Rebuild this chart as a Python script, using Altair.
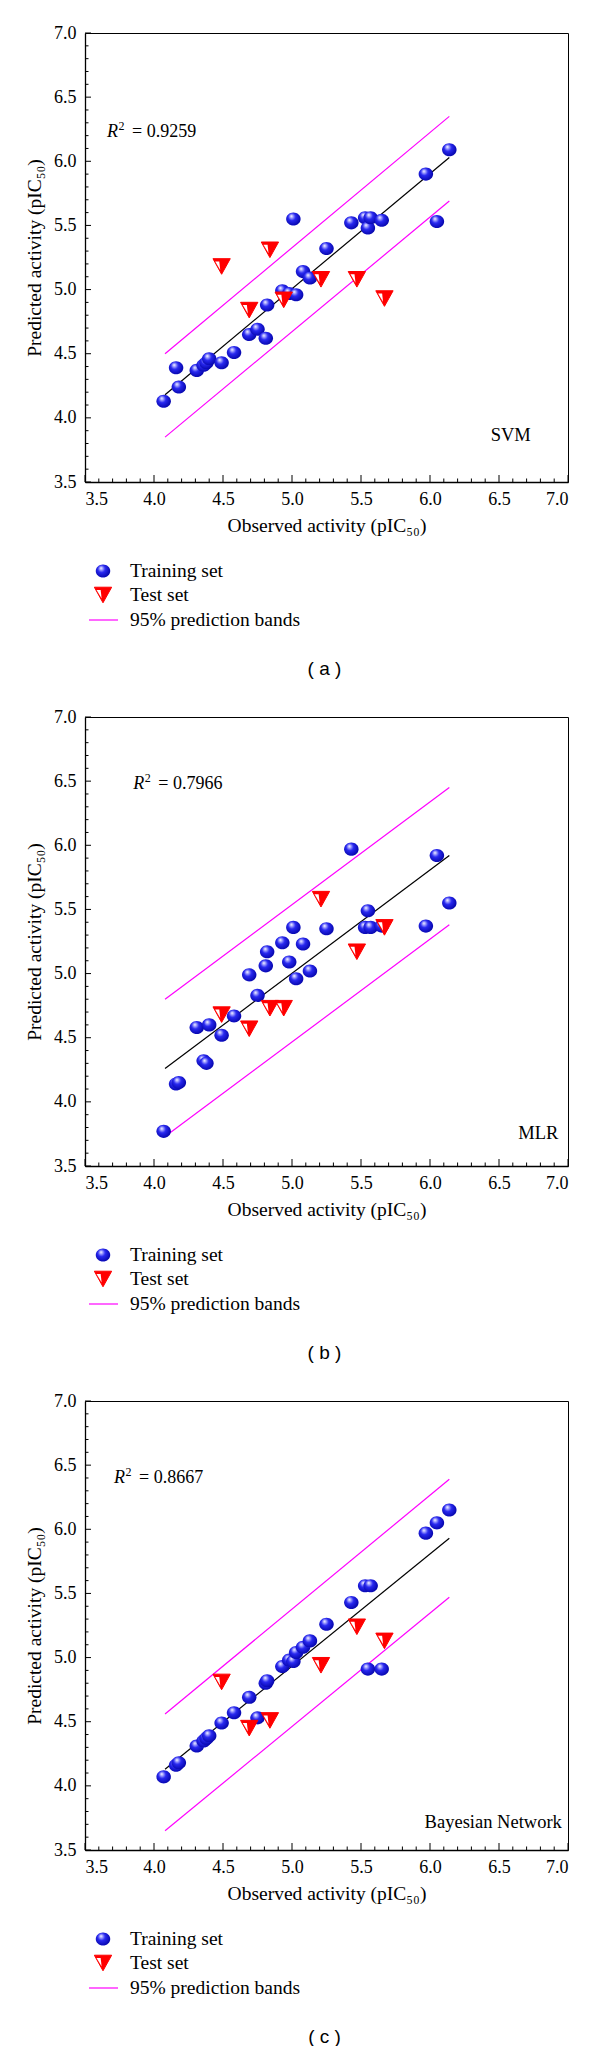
import altair as alt
import pandas as pd

# ---------------- data ----------------
obs_train = [4.07, 4.16, 4.18, 4.31, 4.36, 4.38, 4.40, 4.49, 4.58, 4.69, 4.75, 4.81, 4.82, 4.93,
             4.98, 5.01, 5.03, 5.08, 5.13, 5.25, 5.43, 5.53, 5.55, 5.57, 5.65, 5.97, 6.05, 6.14]
svm_train = [4.13, 4.39, 4.24, 4.37, 4.41, 4.43, 4.46, 4.43, 4.51, 4.65, 4.69, 4.62, 4.88, 4.99,
             4.97, 5.55, 4.96, 5.14, 5.09, 5.32, 5.52, 5.56, 5.48, 5.56, 5.54, 5.90, 5.53, 6.09]
mlr_train = [3.77, 4.14, 4.15, 4.58, 4.32, 4.30, 4.60, 4.52, 4.67, 4.99, 4.83, 5.06, 5.17, 5.24,
             5.09, 5.36, 4.96, 5.23, 5.02, 5.35, 5.97, 5.36, 5.49, 5.36, 5.37, 5.37, 5.92, 5.55]
bn_train = [4.07, 4.16, 4.18, 4.31, 4.35, 4.37, 4.39, 4.49, 4.57, 4.69, 4.53, 4.80, 4.82, 4.93,
            4.98, 4.97, 5.04, 5.08, 5.13, 5.26, 5.43, 5.56, 4.91, 5.56, 4.91, 5.97, 6.05, 6.15]

obs_test = [4.49, 4.69, 4.84, 4.94, 5.21, 5.47, 5.67]
svm_test = [5.18, 4.84, 5.31, 4.92, 5.08, 5.08, 4.93]
mlr_test = [4.68, 4.57, 4.73, 4.73, 5.58, 5.17, 5.36]
obs_test_bn = [4.49, 4.69, 4.84, 5.21, 5.47, 5.67]
bn_test = [4.81, 4.45, 4.51, 4.94, 5.24, 5.13]

line_x = [4.08, 6.14]
svm_fit, svm_up, svm_lo = [4.18, 6.03], [4.50, 6.35], [3.85, 5.69]
mlr_fit, mlr_up, mlr_lo = [4.26, 5.92], [4.80, 6.45], [3.73, 5.38]
bn_fit, bn_up, bn_lo = [4.13, 5.93], [4.56, 6.39], [3.65, 5.47]

r2_values = ["0.9259", "0.7966", "0.8667"]
r2_pos = [(3.66, 6.23), (3.85, 6.48), (3.71, 6.40)]
models = ["SVM", "MLR", "Bayesian Network"]
model_pos = [(6.73, 3.865), (6.93, 3.76), (6.955, 3.72)]
letters = ["( a )", "( b )", "( c )"]

major_ticks = [3.5, 4.0, 4.5, 5.0, 5.5, 6.0, 6.5, 7.0]
minor_ticks = [round(3.5 + 0.1 * i, 1) for i in range(1, 35) if i % 5 != 0]

legend_labels = ["Training set", "Test set", "95% prediction bands"]

# ---------------- style ----------------
W, H = 483, 449
SERIF = "Liberation Serif"
SANS = "Liberation Sans"
MAGENTA = "#ff00ff"
RED = "#ff0000"

SPHERE = "M -1 0 A 1 0.9 0 1 0 1 0 A 1 0.9 0 1 0 -1 0 Z"
TRI = "M -1 -0.9 L 1 -0.9 L 0 0.9 Z"
TRI_W = "M -0.74 -0.58 L -0.27 -0.58 L -0.16 0.4 Z"
SPH_SIZE = 210
TRI_SIZE = 300

grad = {
    "gradient": "radial",
    "x1": 0.36, "y1": 0.3, "r1": 0.0,
    "x2": 0.45, "y2": 0.42, "r2": 0.62,
    "stops": [
        {"offset": 0.0, "color": "#ffffff"},
        {"offset": 0.16, "color": "#a8a8ff"},
        {"offset": 0.42, "color": "#2828f0"},
        {"offset": 1.0, "color": "#0000a0"},
    ],
}

xs = alt.Scale(domain=[3.5, 7.0], nice=False, zero=False)
ys = alt.Scale(domain=[3.5, 7.0], nice=False, zero=False)

x_axis = alt.Axis(values=major_ticks, format=".1f", title="Observed activity (pIC₅₀)",
                  labelPadding=8, titlePadding=8, ticks=False, grid=False)
y_axis = alt.Axis(values=major_ticks, format=".1f", title="Predicted activity (pIC₅₀)",
                  labelPadding=9, titlePadding=9, ticks=False, grid=False)

one = pd.DataFrame({"a": [0]})


def X(f="obs"):
    return alt.X(f"{f}:Q", scale=xs, axis=x_axis)


def Y(f="pred"):
    return alt.Y(f"{f}:Q", scale=ys, axis=y_axis)


def panel(tx, ty, sx, sy, fit, up, lo, r2, r2xy, model, mxy, letter):
    tr = pd.DataFrame({"obs": tx, "pred": ty})
    te = pd.DataFrame({"obs": sx, "pred": sy})
    bands = pd.DataFrame({"obs": line_x * 2, "pred": up + lo,
                          "k": ["u", "u", "l", "l"]})
    fitdf = pd.DataFrame({"obs": line_x, "pred": fit})

    tk_major = pd.DataFrame({"obs": major_ticks, "pred": major_ticks})
    tk_minor = pd.DataFrame({"obs": minor_ticks, "pred": minor_ticks})
    bt1 = alt.Chart(tk_major).mark_rule(color="black", strokeWidth=1).encode(
        x=X(), y=alt.value(H), y2=alt.value(H - 7))
    bt2 = alt.Chart(tk_minor).mark_rule(color="black", strokeWidth=1).encode(
        x=X(), y=alt.value(H), y2=alt.value(H - 3.5))
    lt1 = alt.Chart(tk_major).mark_rule(color="black", strokeWidth=1).encode(
        y=Y(), x=alt.value(0), x2=alt.value(6))
    lt2 = alt.Chart(tk_minor).mark_rule(color="black", strokeWidth=1).encode(
        y=Y(), x=alt.value(0), x2=alt.value(3.5))

    band_l = alt.Chart(bands).mark_line(color=MAGENTA, strokeWidth=1.2).encode(
        x=X(), y=Y(), detail="k:N")
    fit_l = alt.Chart(fitdf).mark_line(color="black", strokeWidth=1.2).encode(x=X(), y=Y())

    spheres = alt.Chart(tr).mark_point(shape=SPHERE, filled=True, fill=grad, size=SPH_SIZE,
                                       opacity=1, strokeWidth=0).encode(x=X(), y=Y())
    tri_r = alt.Chart(te).mark_point(shape=TRI, filled=True, fill=RED, stroke=RED,
                                     strokeWidth=1, size=TRI_SIZE, opacity=1).encode(x=X(), y=Y())
    tri_w = alt.Chart(te).mark_point(shape=TRI_W, filled=True, fill="white",
                                     size=TRI_SIZE, opacity=1, strokeWidth=0).encode(x=X(), y=Y())

    r2df = pd.DataFrame({"obs": [r2xy[0]], "pred": [r2xy[1]]})
    r_t = alt.Chart(r2df).mark_text(align="left", baseline="middle", font=SERIF, fontSize=18,
                                    fontStyle="italic", color="black").encode(
        x=X(), y=Y(), text=alt.value("R"))
    sup_t = alt.Chart(r2df).mark_text(align="left", baseline="middle", font=SERIF, fontSize=12,
                                      dx=11.5, dy=-6, color="black").encode(
        x=X(), y=Y(), text=alt.value("2"))
    val_t = alt.Chart(r2df).mark_text(align="left", baseline="middle", font=SERIF, fontSize=18,
                                      dx=25, color="black").encode(
        x=X(), y=Y(), text=alt.value(f"= {r2}"))

    mdf = pd.DataFrame({"obs": [mxy[0]], "pred": [mxy[1]]})
    m_t = alt.Chart(mdf).mark_text(align="right", baseline="middle", font=SERIF, fontSize=18.5,
                                   color="black").encode(x=X(), y=Y(), text=alt.value(model))

    # legend below the plot
    ly = [538, 562, 587]
    leg_s = alt.Chart(one).mark_point(shape=SPHERE, filled=True, fill=grad, size=SPH_SIZE,
                                      opacity=1, strokeWidth=0).encode(
        x=alt.value(18), y=alt.value(ly[0]))
    leg_tr = alt.Chart(one).mark_point(shape=TRI, filled=True, fill=RED, stroke=RED, strokeWidth=1,
                                       size=TRI_SIZE, opacity=1).encode(
        x=alt.value(18), y=alt.value(ly[1]))
    leg_tw = alt.Chart(one).mark_point(shape=TRI_W, filled=True, fill="white", strokeWidth=0,
                                       size=TRI_SIZE, opacity=1).encode(
        x=alt.value(18), y=alt.value(ly[1]))
    leg_l = alt.Chart(one).mark_rule(color=MAGENTA, strokeWidth=1.2).encode(
        x=alt.value(4), x2=alt.value(33), y=alt.value(ly[2]))
    leg_txt = [
        alt.Chart(one).mark_text(align="left", baseline="middle", font=SERIF, fontSize=19.5,
                                 color="black").encode(
            x=alt.value(45), y=alt.value(yy), text=alt.value(lab))
        for yy, lab in zip(ly, legend_labels)
    ]
    cap = alt.Chart(one).mark_text(align="center", baseline="middle", font=SANS, fontSize=19,
                                   color="black").encode(
        x=alt.value(W / 2 - 2), y=alt.value(636), text=alt.value(letter))

    return alt.layer(bt1, bt2, lt1, lt2, band_l, fit_l, spheres, tri_r, tri_w,
                     r_t, sup_t, val_t, m_t, leg_s, leg_tr, leg_tw, leg_l, *leg_txt, cap
                     ).properties(width=W, height=H)


pa = panel(obs_train, svm_train, obs_test, svm_test, svm_fit, svm_up, svm_lo,
           r2_values[0], r2_pos[0], models[0], model_pos[0], letters[0])
pb = panel(obs_train, mlr_train, obs_test, mlr_test, mlr_fit, mlr_up, mlr_lo,
           r2_values[1], r2_pos[1], models[1], model_pos[1], letters[1])
pc = panel(obs_train, bn_train, obs_test_bn, bn_test, bn_fit, bn_up, bn_lo,
           r2_values[2], r2_pos[2], models[2], model_pos[2], letters[2])

chart = alt.vconcat(pa, pb, pc, spacing=27).properties(
    padding={"left": 16, "top": 15, "right": 5, "bottom": 5},
    background="white",
).configure_view(stroke="black", strokeWidth=1).configure_axis(
    domainColor="black", domainWidth=1.3, labelFont=SERIF, labelFontSize=18,
    labelColor="black", titleFont=SERIF, titleFontSize=19.5, titleFontWeight="normal",
    titleColor="black", grid=False, ticks=False,
)

chart.save("out.html", embed_options={"renderer": "svg", "actions": False})
